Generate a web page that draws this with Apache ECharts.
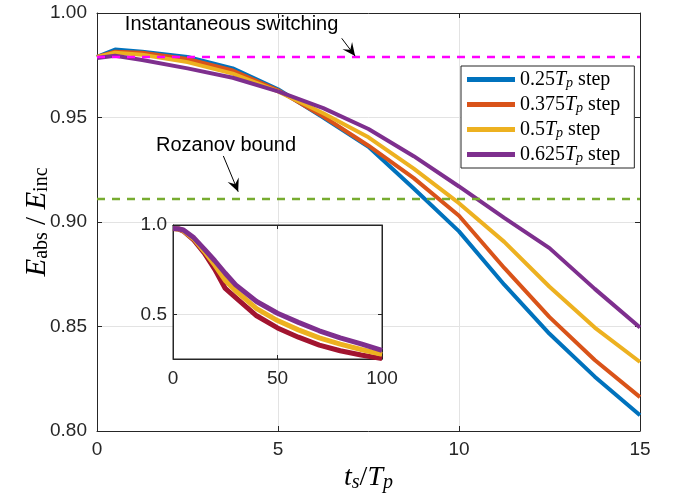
<!DOCTYPE html>
<html>
<head>
<meta charset="utf-8">
<script src="https://cdn.jsdelivr.net/npm/echarts@6/dist/echarts.min.js"></script>
<style>
  html, body { margin: 0; padding: 0; background: #fff; }
  #chart { width: 678px; height: 500px; }
</style>
</head>
<body>
<div id="chart"></div>
<script>
// main plot: absorbed energy ratio vs switching time
const stepCoefs = ["0.25", "0.375", "0.5", "0.625"]
const seriesNames = stepCoefs.map((c) => c + "Tp step")
const seriesColors = ["#0072BD", "#D95319", "#EDB120", "#7E2F8E"]

const tsMain = [0, 0.5, 1.25, 2.5, 3.75, 5, 6.25, 7.5, 8.75, 10, 11.25, 12.5, 13.75, 15]
const effStep025 = [0.979, 0.9825, 0.9815, 0.979, 0.9735, 0.9635, 0.950, 0.936, 0.916, 0.8955, 0.870, 0.8465, 0.826, 0.8075]
const effStep0375 = [0.979, 0.9815, 0.981, 0.978, 0.9725, 0.963, 0.9505, 0.9365, 0.921, 0.903, 0.878, 0.8545, 0.834, 0.8162]
const effStep05 = [0.979, 0.981, 0.980, 0.9765, 0.971, 0.9625, 0.952, 0.9405, 0.9255, 0.909, 0.8905, 0.869, 0.8495, 0.833]
const effStep0625 = [0.9785, 0.9795, 0.9775, 0.9735, 0.969, 0.9625, 0.9545, 0.9445, 0.9315, 0.917, 0.902, 0.8875, 0.868, 0.8495]
const mainSeries = [effStep025, effStep0375, effStep05, effStep0625]

const instantaneousLevel = 0.979
const rozanovLevel = 0.911
const refSpan = [0, 15]

// inset: same quantity over a long switching range
const tsInset = [0, 2.5, 5, 10, 15, 20, 25, 30, 40, 50, 60, 70, 80, 90, 100]
const insetCrimson = [0.98, 0.978, 0.966, 0.915, 0.842, 0.752, 0.645, 0.594, 0.492, 0.424, 0.372, 0.328, 0.296, 0.272, 0.252]
const insetYellow = [0.98, 0.978, 0.968, 0.922, 0.853, 0.776, 0.69, 0.632, 0.532, 0.465, 0.413, 0.368, 0.333, 0.303, 0.276]
const insetPurple = [0.98, 0.979, 0.972, 0.928, 0.865, 0.80, 0.73, 0.665, 0.572, 0.506, 0.455, 0.408, 0.368, 0.335, 0.298]
const insetYTicks = [0.5, 1.0]

const pair = (xs, ys) => xs.map((x, i) => [x, ys[i]])

const sans = "Liberation Sans"
const serif = "Liberation Serif"
const ink = "#262626"
const gridGrey = "#e3e3e3"

const mathRich = (size, lh) => ({
  i: { fontFamily: serif, fontStyle: "italic", fontSize: size, color: "#000", lineHeight: lh, verticalAlign: "middle" },
  n: { fontFamily: serif, fontSize: size, color: "#000", lineHeight: lh, verticalAlign: "middle" },
  s: { fontFamily: serif, fontSize: Math.round(size * 0.7), color: "#000", lineHeight: Math.round(size * 0.55), verticalAlign: "bottom" },
  si: { fontFamily: serif, fontStyle: "italic", fontSize: Math.round(size * 0.7), color: "#000", lineHeight: Math.round(size * 0.55), verticalAlign: "bottom" },
})

const chart = echarts.init(document.getElementById("chart"))

const boxAxis = (extra) => Object.assign({
  type: "value",
  axisLine: { show: true, onZero: false, lineStyle: { color: ink, width: 1 } },
  axisTick: { show: true, inside: true, length: 5, lineStyle: { color: ink } },
  axisLabel: { show: false },
  splitLine: { show: false },
}, extra)

chart.setOption({
  animation: false,
  backgroundColor: "#fff",
  grid: [
    { left: 97, right: 38, top: 13, bottom: 69, outerBoundsMode: "none", containLabel: false },
    { left: 173, top: 225, width: 209, height: 134, outerBoundsMode: "none", containLabel: false,
      show: true, backgroundColor: "#fff", borderColor: ink, borderWidth: 1, z: 1 },
  ],
  legend: {
    data: seriesNames,
    orient: "vertical",
    left: 461,
    top: 66,
    padding: [3, 14, 3, 6],
    itemGap: 4,
    itemWidth: 48,
    itemHeight: 5,
    icon: "rect",
    backgroundColor: "#fff",
    borderColor: ink,
    borderWidth: 1,
    z: 10,
    formatter: (name) => `{n|${name.replace("Tp step", "")}}{i|T}{si|p}{n| step}`,
    textStyle: { rich: mathRich(20, 21), lineHeight: 21 },
  },
  xAxis: [
    boxAxis({
      gridIndex: 0, min: 0, max: 15, interval: 5,
      axisLabel: { show: true, margin: 9, fontFamily: sans, fontSize: 19, color: ink },
      splitLine: { show: true, lineStyle: { color: gridGrey, width: 1 } },
      name: "{i|t}{si|s}{n|/}{i|T}{si|p}",
      nameLocation: "middle",
      nameGap: 32,
      nameMoveOverlap: false,
      nameTextStyle: { rich: mathRich(28, 30) },
    }),
    boxAxis({ gridIndex: 0, min: 0, max: 15, interval: 5, position: "top" }),
    boxAxis({
      gridIndex: 1, min: 0, max: 100, interval: 50, z: 3,
      axisTick: { show: true, inside: true, length: 4, lineStyle: { color: ink } },
      axisLabel: { show: true, margin: 10, fontFamily: sans, fontSize: 19, color: ink },
      splitLine: { show: true, lineStyle: { color: gridGrey, width: 1 } },
    }),
    boxAxis({ gridIndex: 1, min: 0, max: 100, interval: 50, position: "top", z: 3,
      axisTick: { show: true, inside: true, length: 4, lineStyle: { color: ink } } }),
  ],
  yAxis: [
    boxAxis({
      gridIndex: 0, min: 0.8, max: 1.0, interval: 0.05,
      axisLabel: { show: true, margin: 10, fontFamily: sans, fontSize: 19, color: ink, formatter: (v) => v.toFixed(2) },
      splitLine: { show: true, lineStyle: { color: gridGrey, width: 1 } },
      name: "{i|E}{s|abs}{n| / }{i|E}{s|inc}",
      nameLocation: "middle",
      nameRotate: 90,
      nameGap: 45,
      nameMoveOverlap: false,
      nameTextStyle: { rich: mathRich(29, 30) },
    }),
    boxAxis({ gridIndex: 0, min: 0.8, max: 1.0, interval: 0.05, position: "right" }),
    boxAxis({
      gridIndex: 1, min: 0.25, max: 1.0, z: 3,
      axisTick: { show: true, inside: true, length: 4, customValues: insetYTicks, lineStyle: { color: ink } },
      axisLabel: { show: true, margin: 6, fontFamily: sans, fontSize: 19, color: ink, customValues: insetYTicks, formatter: (v) => v.toFixed(1) },
      splitLine: { show: true, lineStyle: { color: gridGrey, width: 1 } },
    }),
    boxAxis({ gridIndex: 1, min: 0.25, max: 1.0, position: "right", z: 3,
      axisTick: { show: true, inside: true, length: 4, customValues: insetYTicks, lineStyle: { color: ink } } }),
  ],
  series: [
    ...mainSeries.map((vals, k) => ({
      name: seriesNames[k],
      type: "line",
      xAxisIndex: 0,
      yAxisIndex: 0,
      data: pair(tsMain, vals),
      showSymbol: false,
      color: seriesColors[k],
      lineStyle: { width: 4, color: seriesColors[k] },
      z: 2,
    })),
    {
      type: "line", xAxisIndex: 0, yAxisIndex: 0, showSymbol: false, z: 3,
      data: refSpan.map((x) => [x, instantaneousLevel]),
      lineStyle: { width: 2.5, color: "#FF00FF", type: [8, 7] },
    },
    {
      type: "line", xAxisIndex: 0, yAxisIndex: 0, showSymbol: false, z: 3,
      data: refSpan.map((x) => [x, rozanovLevel]),
      lineStyle: { width: 2.5, color: "#77AC30", type: [8, 7] },
    },
    { type: "line", xAxisIndex: 2, yAxisIndex: 2, showSymbol: false, z: 4,
      data: pair(tsInset, insetCrimson), lineStyle: { width: 5, color: "#A2142F" } },
    { type: "line", xAxisIndex: 2, yAxisIndex: 2, showSymbol: false, z: 4,
      data: pair(tsInset, insetYellow), lineStyle: { width: 5, color: "#EDB120" } },
    { type: "line", xAxisIndex: 2, yAxisIndex: 2, showSymbol: false, z: 4,
      data: pair(tsInset, insetPurple), lineStyle: { width: 5, color: "#7E2F8E" } },
  ],
})

// annotations, anchored in data coordinates of the main axes
const annotations = [
  { text: "Instantaneous switching", at: [0.77, 0.9943], tail: [6.76, 0.9879], head: [7.13, 0.9794] },
  { text: "Rozanov bound", at: [1.63, 0.9368], tail: [3.49, 0.9316], head: [3.9, 0.9145] },
]

const toPx = (p) => chart.convertToPixel({ xAxisIndex: 0, yAxisIndex: 0 }, p)

const arrowHead = (tail, head) => {
  const dx = head[0] - tail[0], dy = head[1] - tail[1]
  const len = Math.hypot(dx, dy)
  const ux = dx / len, uy = dy / len
  const L = 13, W = 6, back = 8
  const bx = head[0] - ux * L, by = head[1] - uy * L
  const mx = head[0] - ux * back, my = head[1] - uy * back
  return [head, [bx - uy * W, by + ux * W], [mx, my], [bx + uy * W, by - ux * W]]
}

const graphics = []
annotations.forEach((a) => {
  const p = toPx(a.at)
  const t = toPx(a.tail)
  const h = toPx(a.head)
  graphics.push({
    type: "text", x: p[0], y: p[1], z: 20,
    style: { text: a.text, fontFamily: sans, fontSize: 20, fill: "#000", verticalAlign: "middle", align: "left" },
  })
  graphics.push({
    type: "line", z: 20,
    shape: { x1: t[0], y1: t[1], x2: h[0], y2: h[1] },
    style: { stroke: "#000", lineWidth: 1 },
  })
  graphics.push({
    type: "polygon", z: 20,
    shape: { points: arrowHead(t, h) },
    style: { fill: "#000" },
  })
})
chart.setOption({ graphic: graphics })
</script>
</body>
</html>
